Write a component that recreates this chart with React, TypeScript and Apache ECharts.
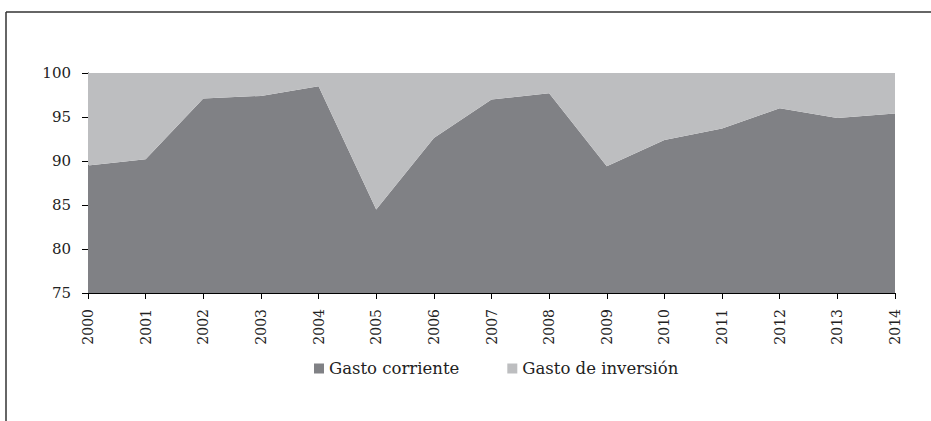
import React, { useEffect, useRef } from "react";
import * as echarts from "echarts";

const years = ["2000","2001","2002","2003","2004","2005","2006","2007","2008","2009","2010","2011","2012","2013","2014"];
const gastoCorriente = [89.5, 90.2, 97.1, 97.4, 98.5, 84.5, 92.6, 97.0, 97.7, 89.4, 92.4, 93.7, 96.0, 94.9, 95.4];
const gastoInversion = [10.5, 9.8, 2.9, 2.6, 1.5, 15.5, 7.4, 3.0, 2.3, 10.6, 7.6, 6.3, 4.0, 5.1, 4.6];
const seriesNames = ["Gasto corriente", "Gasto de inversión"];

const FONT = "DejaVu Serif";

export default function App() {
  const ref = useRef<HTMLDivElement>(null);
  useEffect(() => {
    const chart = echarts.init(ref.current!, null, { renderer: "svg" });
    chart.setOption({
      animation: false,
      backgroundColor: "#ffffff",
      textStyle: { fontFamily: FONT },
      grid: { left: 88, right: 36, top: 73, bottom: 128 },
      legend: {
        data: seriesNames,
        top: 355,
        left: 309,
        itemWidth: 10,
        itemHeight: 10,
        itemGap: 48,
        icon: "rect",
        textStyle: { fontFamily: FONT, fontSize: 16.5, color: "#222" },
      },
      xAxis: {
        type: "category",
        data: years,
        boundaryGap: false,
        axisLine: { lineStyle: { color: "#000", width: 1 } },
        axisTick: { alignWithLabel: true, length: 6, lineStyle: { color: "#000" } },
        axisLabel: { rotate: 90, fontFamily: FONT, fontSize: 14, color: "#222", margin: 16 },
      },
      yAxis: {
        type: "value",
        min: 75,
        max: 100,
        interval: 5,
        splitLine: { show: false },
        axisLine: { show: true, lineStyle: { color: "#000", width: 1 } },
        axisTick: { show: true, length: 6, lineStyle: { color: "#000" } },
        axisLabel: { fontFamily: FONT, fontSize: 15, color: "#222", margin: 17 },
      },
      series: [
        {
          name: seriesNames[0],
          type: "line",
          stack: "total",
          data: gastoCorriente,
          showSymbol: false,
          lineStyle: { width: 0 },
          itemStyle: { color: "#808185" },
          areaStyle: { color: "#808185", opacity: 1 },
        },
        {
          name: seriesNames[1],
          type: "line",
          stack: "total",
          data: gastoInversion,
          showSymbol: false,
          lineStyle: { width: 0 },
          itemStyle: { color: "#bdbec0" },
          areaStyle: { color: "#bdbec0", opacity: 1 },
        },
      ],
      graphic: [
        { type: "line", shape: { x1: 6, y1: 12, x2: 931, y2: 12 }, style: { stroke: "#333", lineWidth: 1.5 } },
        { type: "line", shape: { x1: 6, y1: 12, x2: 6, y2: 421 }, style: { stroke: "#333", lineWidth: 1.5 } },
      ],
    });
    return () => chart.dispose();
  }, []);
  return <div ref={ref} style={{ width: 931, height: 421, position: "absolute", left: 0, top: 0 }} />;
}
